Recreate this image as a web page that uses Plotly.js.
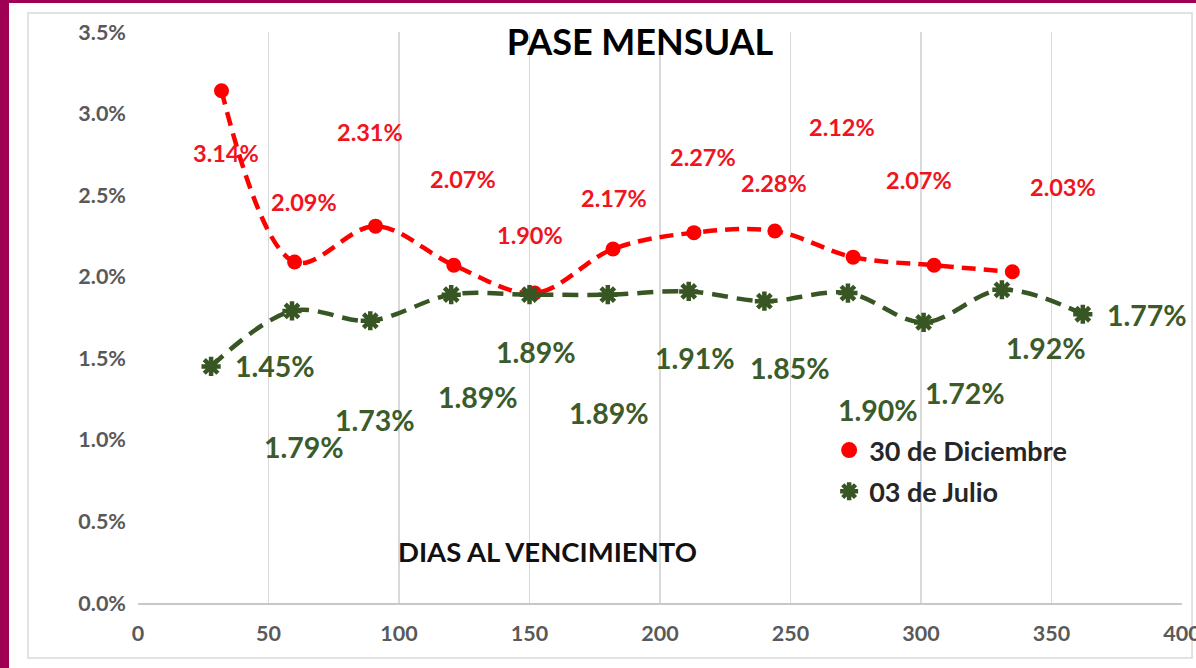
<!DOCTYPE html>
<html>
<head>
<meta charset="utf-8">
<script src="https://cdn.plot.ly/plotly-3.0.1.min.js"></script>
<style>
  html, body { margin: 0; padding: 0; background: #9E0054; width: 1196px; height: 668px; overflow: hidden; }
  #chart { position: absolute; left: 9px; top: 3px; width: 1187px; height: 665px; }
</style>
</head>
<body>
<div id="chart"></div>
<script>
// ---- Data ----
const diasDic = [32, 60, 91, 121, 152, 182, 213, 244, 274, 305, 335];
const paseDic = [3.14, 2.09, 2.31, 2.07, 1.90, 2.17, 2.27, 2.28, 2.12, 2.07, 2.03];
const diasJul = [28, 59, 89, 120, 150, 180, 211, 240, 272, 301, 331, 362];
const paseJul = [1.45, 1.79, 1.73, 1.89, 1.89, 1.89, 1.91, 1.85, 1.90, 1.72, 1.92, 1.77];
const nombreDic = '30 de Diciembre';
const nombreJul = '03 de Julio';
const titulo = 'PASE MENSUAL';
const tituloX = 'DIAS AL VENCIMIENTO';

// label offsets in pixels (placement style, not data)
const offDic = [[4,-62],[9,60],[-6,94],[9,86],[-5,58],[1,51],[9,76],[-1,48],[-11,130],[-15,85],[51,85]];
const offJul = [[64,0],[12,-136],[5,-99],[27,-102],[6,-57],[1,-118],[6,-67],[26,-67],[30,-117],[41,-71],[44,-58],[64,-1]];

const RED = '#FF0000';
const GREEN = '#375623';
const FONT = 'Lato, "Open Sans", sans-serif';

const traces = [
  {
    x: diasDic, y: paseDic, type: 'scatter', mode: 'lines+markers', name: nombreDic,
    showlegend: false,
    line: {color: RED, width: 4.5, dash: '14px,8px', shape: 'spline', smoothing: 1},
    marker: {color: RED, size: 15, symbol: 'circle'},
    cliponaxis: false
  },
  {
    x: diasJul, y: paseJul, type: 'scatter', mode: 'lines+markers', name: nombreJul,
    showlegend: false,
    line: {color: GREEN, width: 4.5, dash: '16px,9px', shape: 'spline', smoothing: 1},
    marker: {color: GREEN, size: 16, symbol: 'asterisk-open', line: {color: GREEN, width: 4.5}},
    cliponaxis: false
  },
  // legend entries (marker only)
  {
    x: [null], y: [null], type: 'scatter', mode: 'markers', name: nombreDic,
    legendgroup: 'a',
    marker: {color: RED, size: 18, symbol: 'circle'}
  },
  {
    x: [null], y: [null], type: 'scatter', mode: 'markers', name: nombreJul,
    legendgroup: 'b',
    marker: {color: GREEN, size: 15, symbol: 'asterisk-open', line: {color: GREEN, width: 4.5}}
  }
];

const annotations = [];
diasDic.forEach((d, i) => {
  annotations.push({
    x: d, y: paseDic[i], xref: 'x', yref: 'y', showarrow: false,
    text: paseDic[i].toFixed(2) + '%',
    xshift: offDic[i][0], yshift: offDic[i][1],
    font: {family: FONT, size: 23.5, color: '#F0141E', weight: 'bold'}
  });
});
diasJul.forEach((d, i) => {
  annotations.push({
    x: d, y: paseJul[i], xref: 'x', yref: 'y', showarrow: false,
    text: paseJul[i].toFixed(2) + '%',
    xshift: offJul[i][0], yshift: offJul[i][1],
    font: {family: FONT, size: 28.5, color: '#3B5B2B', weight: 'bold'}
  });
});
annotations.push({
  x: 0.3927, y: 0.091, xref: 'paper', yref: 'paper', showarrow: false,
  xanchor: 'center', yanchor: 'middle',
  text: tituloX,
  font: {family: FONT, size: 27.5, color: '#111111', weight: 'bold'}
});

const layout = {
  width: 1187, height: 665,
  margin: {l: 129, r: 14, t: 29, b: 65},
  paper_bgcolor: '#FFFFFF',
  plot_bgcolor: '#FFFFFF',
  font: {family: FONT},
  title: {
    text: titulo, x: 0.5316, y: 0.9414, xref: 'container', yref: 'container',
    xanchor: 'center', yanchor: 'middle',
    font: {family: FONT, size: 36, color: '#000000', weight: 'bold'}
  },
  xaxis: {
    range: [0, 400], dtick: 50, tick0: 0,
    showgrid: true, gridcolor: '#D9D9D9', gridwidth: 1.5,
    zeroline: false, showline: true, linecolor: '#C8C8C8', linewidth: 1.5,
    ticks: '', ticklabelstandoff: 11, ticklabeloverflow: 'allow',
    tickfont: {family: FONT, size: 21.5, color: '#595959', weight: 'bold'},
    fixedrange: true
  },
  yaxis: {
    range: [0, 3.5], dtick: 0.5, tick0: 0,
    tickformat: '.1f', ticksuffix: '%',
    showgrid: false, zeroline: false, showline: false,
    ticks: '', ticklabelstandoff: 11,
    tickfont: {family: FONT, size: 21.5, color: '#595959', weight: 'bold'},
    fixedrange: true
  },
  legend: {
    x: 0.662, y: 0.31, xanchor: 'left', yanchor: 'top',
    bgcolor: 'rgba(0,0,0,0)',
    traceorder: 'grouped', tracegroupgap: 3,
    font: {family: FONT, size: 27, color: '#262626', weight: 'bold'}
  },
  shapes: [{
    type: 'rect', xref: 'paper', yref: 'paper', layer: 'below',
    x0: -0.1054, x1: 1.0096, y0: -0.0963, y1: 1.0333,
    line: {color: '#D9D9D9', width: 1.5}, fillcolor: 'rgba(0,0,0,0)'
  }],
  annotations: annotations,
  showlegend: true
};

Plotly.newPlot('chart', traces, layout, {displayModeBar: false, staticPlot: true});
</script>
</body>
</html>
